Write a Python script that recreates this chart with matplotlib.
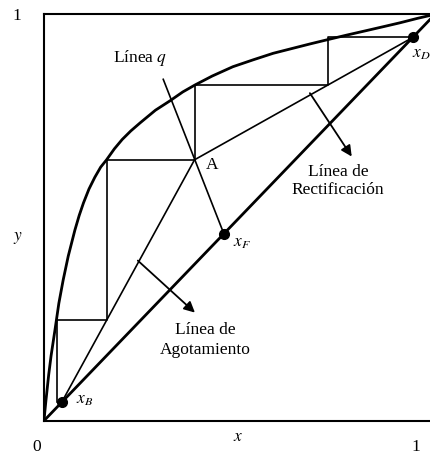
import numpy as np
import matplotlib
matplotlib.use('Agg')
import matplotlib.pyplot as plt

plt.rcParams['font.family'] = ['Liberation Serif', 'DejaVu Serif']
plt.rcParams['mathtext.fontset'] = 'stix'

W, H, DPI = 431, 454, 100

# equilibrium curve y(x)
eq_x = [0.0, 0.002, 0.005, 0.012, 0.018, 0.028, 0.038, 0.049, 0.062, 0.079,
        0.090, 0.101, 0.115, 0.130, 0.145, 0.160, 0.180, 0.200, 0.222, 0.246,
        0.285, 0.322, 0.355, 0.386, 0.430, 0.483, 0.535, 0.586, 0.635, 0.680,
        0.727, 0.775, 0.825, 0.870, 0.910, 0.955, 1.0]
eq_y = [0.0, 0.021, 0.050, 0.113, 0.159, 0.223, 0.289, 0.346, 0.405, 0.469,
        0.505, 0.536, 0.570, 0.599, 0.624, 0.642, 0.669, 0.692, 0.713, 0.733,
        0.764, 0.787, 0.809, 0.826, 0.848, 0.871, 0.888, 0.904, 0.916, 0.927,
        0.938, 0.949, 0.960, 0.970, 0.979, 0.990, 1.0]

# compositions
x_B = 0.045
x_F = 0.46
x_D = 0.943
A = (0.385, 0.642)          # intersection of the operating lines
q_top = (0.305, 0.840)      # upper end of the q line

# liquid compositions where each stage touches the curve
stage_x = [0.726, 0.386, 0.160, 0.033]


def operating(x):
    # rectifying above the feed point, stripping below
    if x >= A[0]:
        return x_D + (A[1] - x_D) / (A[0] - x_D) * (x - x_D)
    return x_B + (A[1] - x_B) / (A[0] - x_B) * (x - x_B)


fig = plt.figure(figsize=(W / DPI, H / DPI), dpi=DPI)
ax = fig.add_axes([44 / W, (H - 420.7) / H, 391 / W, 406.4 / H])
ax.set_xlim(0, 1)
ax.set_ylim(0, 1)
ax.set_xticks([])
ax.set_yticks([])
for s in ax.spines.values():
    s.set_linewidth(1.5)
ax.spines['right'].set_visible(False)

# diagonal and equilibrium curve
ax.plot([0, 1], [0, 1], color='black', lw=2.0, solid_capstyle='round')
ax.plot(eq_x, eq_y, color='black', lw=2.0, solid_joinstyle='round')

# operating lines and q line
ax.plot([x_D, A[0]], [x_D, A[1]], color='black', lw=1.2)
ax.plot([x_B, A[0]], [x_B, A[1]], color='black', lw=1.2)
ax.plot([x_F, q_top[0]], [x_F, q_top[1]], color='black', lw=1.2)

# stages
sx, sy = [x_D], [x_D]
y_prev = x_D
for i, xs in enumerate(stage_x):
    sx.append(xs)
    sy.append(y_prev)
    y_next = operating(xs) if i < len(stage_x) - 1 else x_B
    sx.append(xs)
    sy.append(y_next)
    y_prev = y_next
ax.plot(sx, sy, color='black', lw=1.2)

# feed, distillate and bottoms points
ax.plot([x_B, x_F, x_D], [x_B, x_F, x_D], 'o', color='black', ms=7)

# arrows pointing at the operating lines' labels
arrow = dict(arrowstyle='-|>', lw=1.3, color='black', mutation_scale=16,
             shrinkA=0, shrinkB=0)
ax.annotate('', xy=(0.787, 0.650), xytext=(0.680, 0.806), arrowprops=arrow)
ax.annotate('', xy=(0.386, 0.266), xytext=(0.240, 0.394), arrowprops=arrow)


def px(x, y):
    return x / W, 1 - y / H


fs = 12.5
fig.text(*px(140, 58), 'Línea $q$', fontsize=fs, ha='center', va='center')
fig.text(*px(206, 165), 'A', fontsize=fs, ha='left', va='center')
fig.text(*px(338, 181), 'Línea de\nRectificación', fontsize=fs,
         ha='center', va='center', linespacing=1.25)
fig.text(*px(205, 340), 'Línea de\nAgotamiento', fontsize=fs,
         ha='center', va='center', linespacing=1.25)
fig.text(*px(421, 54), '$x_D$', fontsize=fs, ha='center', va='center')
fig.text(*px(242, 243), '$x_F$', fontsize=fs, ha='center', va='center')
fig.text(*px(85, 400), '$x_B$', fontsize=fs, ha='center', va='center')

fig.text(*px(18, 238), '$y$', fontsize=fs, ha='center', va='center')
fig.text(*px(238, 437), '$x$', fontsize=fs, ha='center', va='center')
fig.text(*px(17, 16), '1', fontsize=fs, ha='center', va='center')
fig.text(*px(37, 447), '0', fontsize=fs, ha='center', va='center')
fig.text(*px(416, 447), '1', fontsize=fs, ha='center', va='center')

fig.savefig('out.png', dpi=DPI)
